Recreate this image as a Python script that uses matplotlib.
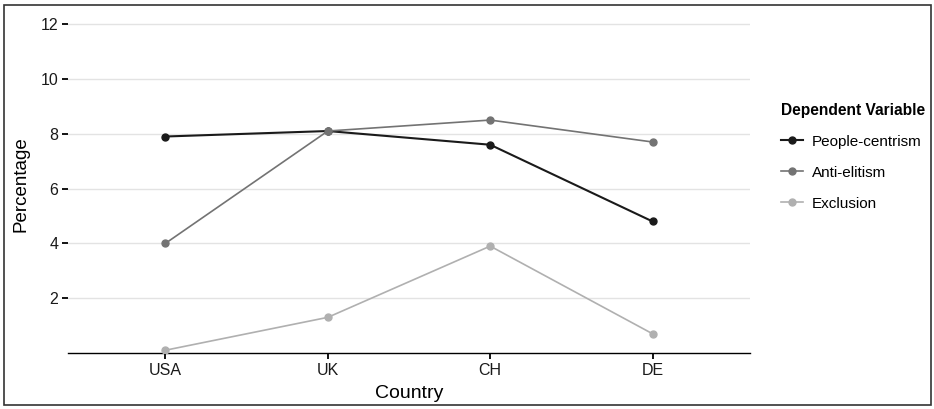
import matplotlib
matplotlib.use("Agg")
import matplotlib.pyplot as plt
from matplotlib.patches import Rectangle

plt.rcParams['font.family'] = ['Liberation Sans', 'DejaVu Sans']

countries = ['USA', 'UK', 'CH', 'DE']
series_names = ['People-centrism', 'Anti-elitism', 'Exclusion']
people_centrism = [7.9, 8.1, 7.6, 4.8]
anti_elitism = [4.0, 8.1, 8.5, 7.7]
exclusion = [0.1, 1.3, 3.9, 0.7]
yticks = [2, 4, 6, 8, 10, 12]

colors = ['#1a1a1a', '#737373', '#b0b0b0']
widths = [1.5, 1.2, 1.2]

fig = plt.figure(figsize=(9.34, 4.09), dpi=100)
ax = fig.add_axes([0.0728, 0.137, 0.7302, 0.824])

x = range(1, len(countries) + 1)
for vals, name, c, lw in zip([people_centrism, anti_elitism, exclusion], series_names, colors, widths):
    ax.plot(x, vals, color=c, lw=lw, marker='o', ms=5, label=name, zorder=3)

ax.set_xlim(0.4, 4.6)
ax.set_ylim(0, 12.3)
ax.set_xticks(list(x))
ax.set_xticklabels(countries)
ax.set_yticks(yticks)
ax.yaxis.grid(True, color='#e3e3e3', lw=1.0)
ax.set_axisbelow(True)
for s in ['top', 'right', 'left']:
    ax.spines[s].set_visible(False)
ax.spines['bottom'].set_color('black')
ax.spines['bottom'].set_linewidth(1.0)
ax.tick_params(axis='both', labelsize=11.5, color='black', length=4, width=1.3,
               pad=3, labelcolor='#1a1a1a')
ax.set_xlabel('Country', fontsize=14, labelpad=5)
ax.set_ylabel('Percentage', fontsize=13.5, labelpad=8)

leg = ax.legend(loc='upper left', bbox_to_anchor=(1.037, 0.76), frameon=False,
                title='Dependent Variable', fontsize=11, handlelength=1.4,
                labelspacing=1.12, handletextpad=0.6, borderaxespad=0)
leg.get_title().set_fontweight('bold')
leg.get_title().set_fontsize(11.2)
leg._legend_box.align = 'left'
leg._legend_box.sep = 12

fig.patches.append(Rectangle((0.004, 0.01), 0.993, 0.978, transform=fig.transFigure,
                             fill=False, edgecolor='#333333', lw=1.2))

fig.savefig('out.png', dpi=100)
